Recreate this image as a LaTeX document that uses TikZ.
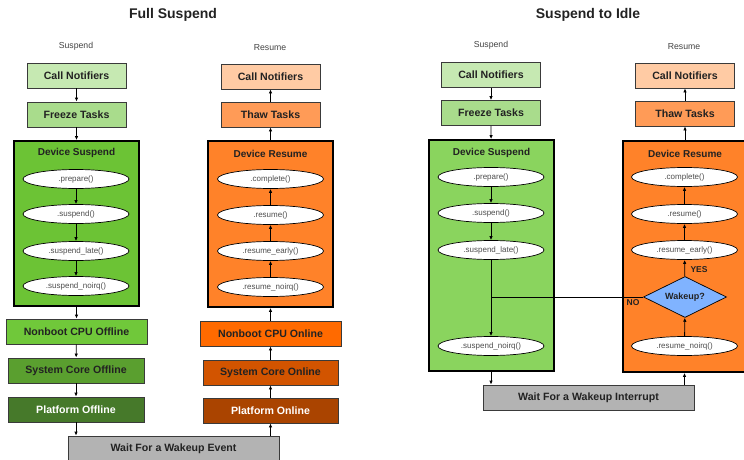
\documentclass[tikz,border=0pt]{standalone}
\usepackage{fontspec}
\setmainfont{Liberation Sans}
\usetikzlibrary{arrows.meta,shapes.geometric,calc}

\definecolor{inkdark}{HTML}{222222}
\definecolor{edgegray}{HTML}{3A3A3A}
\definecolor{notifygreen}{HTML}{C6E9B2}
\definecolor{freezegreen}{HTML}{A9DC8C}
\definecolor{devgreen}{HTML}{6CC335}
\definecolor{idlegreen}{HTML}{8AD45E}
\definecolor{cpugreen}{HTML}{70C83A}
\definecolor{coregreen}{HTML}{5A9F2F}
\definecolor{platgreen}{HTML}{46792A}
\definecolor{notifyorange}{HTML}{FFCBA4}
\definecolor{thaworange}{HTML}{FF9B57}
\definecolor{devorange}{HTML}{FF8229}
\definecolor{cpuorange}{HTML}{FF6A00}
\definecolor{coreorange}{HTML}{D25400}
\definecolor{platorange}{HTML}{AA4400}
\definecolor{waitgray}{HTML}{B3B3B3}
\definecolor{wakeblue}{HTML}{80B3FF}

\begin{document}
\begin{tikzpicture}[
    x=1pt, y=-1pt,
    stage/.style={rectangle, draw=edgegray, line width=0.8pt, minimum width=99pt, minimum height=25pt, inner sep=1pt, font=\fontsize{10.6}{12}\selectfont\bfseries, text=inkdark},
    devbox/.style={rectangle, draw=black, line width=1.8pt, minimum width=125pt, inner sep=0pt},
    boxtitle/.style={font=\fontsize{10}{12}\selectfont\bfseries, text=inkdark},
    cb/.style={ellipse, draw=black, line width=0.7pt, fill=white, minimum width=106pt, minimum height=19pt, inner sep=0pt, font=\fontsize{8}{9}\selectfont, text=inkdark!80},
    wake/.style={diamond, draw=black, line width=0.7pt, fill=wakeblue, aspect=2, minimum width=83pt, minimum height=41pt, inner sep=0pt, font=\fontsize{9}{10}\selectfont\bfseries, text=inkdark},
    arr/.style={line width=0.8pt, -{Latex[length=4pt,width=3.5pt]}},
    head/.style={font=\fontsize{14}{16}\selectfont\bfseries, text=inkdark},
    side/.style={font=\fontsize{8.7}{10}\selectfont, text=inkdark!85},
    tag/.style={font=\fontsize{8.5}{10}\selectfont\bfseries, text=inkdark},
]
    \useasboundingbox (0,0) rectangle (744,460);
    \clip (0,0) rectangle (744,460);

    % Full Suspend
    \node[head] (hd1) at (173,15) {Full Suspend};
    \node[side] (lbS1) at (76,46) {Suspend};
    \node[side] (lbR1) at (270,48) {Resume};

    \node[stage, fill=notifygreen] (cnS1) at (76.5,75.5) {Call Notifiers};
    \node[stage, fill=freezegreen] (ftS1) at (76.5,114.5) {Freeze Tasks};
    \node[devbox, minimum height=165pt, fill=devgreen] (dsS1) at (76.5,223.5) {};
    \node[boxtitle] (dtS1) at (76.5,153) {Device Suspend};
    \node[cb] (pS1) at (76,179) {.prepare()};
    \node[cb] (sS1) at (76,214) {.suspend()};
    \node[cb] (slS1) at (76,251) {.suspend\_late()};
    \node[cb] (snS1) at (76,286) {.suspend\_noirq()};
    \node[stage, minimum width=141pt, fill=cpugreen] (ncS1) at (76.5,331.5) {Nonboot CPU Offline};
    \node[stage, minimum width=136pt, fill=coregreen] (scS1) at (76,370.5) {System Core Offline};
    \node[stage, minimum width=136pt, fill=platgreen, text=white] (poS1) at (76,409.5) {Platform Offline};

    \node[stage, fill=notifyorange] (cnR1) at (270.5,76.5) {Call Notifiers};
    \node[stage, fill=thaworange] (ttR1) at (270.5,114.5) {Thaw Tasks};
    \node[devbox, minimum height=166pt, fill=devorange] (drR1) at (270.5,224) {};
    \node[boxtitle] (dtR1) at (270.5,154) {Device Resume};
    \node[cb] (cR1) at (270.5,179) {.complete()};
    \node[cb] (rR1) at (270.5,215) {.resume()};
    \node[cb] (reR1) at (270.5,251) {.resume\_early()};
    \node[cb] (rnR1) at (270.5,287) {.resume\_noirq()};
    \node[stage, minimum width=141pt, fill=cpuorange] (noR1) at (270.5,333.5) {Nonboot CPU Online};
    \node[stage, minimum width=135pt, fill=coreorange] (scR1) at (270.5,372.5) {System Core Online};
    \node[stage, minimum width=135pt, fill=platorange, text=white] (pnR1) at (270.5,410.5) {Platform Online};

    \node[stage, minimum width=211pt, fill=waitgray] (wt1) at (173.5,448.5) {Wait For a Wakeup Event};

    \draw[arr] (cnS1) -- (ftS1);
    \draw[arr] (ftS1) -- (dsS1);
    \draw[arr] (pS1) -- (sS1);
    \draw[arr] (sS1) -- (slS1);
    \draw[arr] (slS1) -- (snS1);
    \draw[arr] (dsS1) -- (ncS1);
    \draw[arr] (ncS1) -- (scS1);
    \draw[arr] (scS1) -- (poS1);
    \draw[arr] (poS1) -- (poS1 |- wt1.north);

    \draw[arr] (wt1.north -| pnR1) -- (pnR1);
    \draw[arr] (pnR1) -- (scR1);
    \draw[arr] (scR1) -- (noR1);
    \draw[arr] (noR1) -- (drR1);
    \draw[arr] (rnR1) -- (reR1);
    \draw[arr] (reR1) -- (rR1);
    \draw[arr] (rR1) -- (cR1);
    \draw[arr] (drR1) -- (ttR1);
    \draw[arr] (ttR1) -- (cnR1);

    % Suspend to Idle
    \node[head] (hd2) at (588,15) {Suspend to Idle};
    \node[side] (lbS2) at (491,45) {Suspend};
    \node[side] (lbR2) at (684,47) {Resume};

    \node[stage, fill=notifygreen] (cnS2) at (491,75) {Call Notifiers};
    \node[stage, fill=freezegreen] (ftS2) at (491,113) {Freeze Tasks};
    \node[devbox, minimum height=231pt, fill=idlegreen] (dsS2) at (491.5,255.5) {};
    \node[boxtitle] (dtS2) at (491.5,153) {Device Suspend};
    \node[cb] (pS2) at (491,177) {.prepare()};
    \node[cb] (sS2) at (491,213) {.suspend()};
    \node[cb] (slS2) at (491,250) {.suspend\_late()};
    \node[cb] (snS2) at (491,346) {.suspend\_noirq()};

    \node[stage, fill=notifyorange] (cnR2) at (685,75.5) {Call Notifiers};
    \node[stage, fill=thaworange] (ttR2) at (685,113.5) {Thaw Tasks};
    \node[devbox, minimum height=231pt, fill=devorange] (drR2) at (685.5,256.5) {};
    \node[boxtitle] (dtR2) at (685,154) {Device Resume};
    \node[cb] (cR2) at (684.5,177) {.complete()};
    \node[cb] (rR2) at (684.5,214) {.resume()};
    \node[cb] (reR2) at (684.5,250) {.resume\_early()};
    \node[wake] (wk) at (685,297) {Wakeup?};
    \node[cb] (rnR2) at (684.5,346) {.resume\_noirq()};
    \node[tag] (yes) at (699,270) {YES};
    \node[tag] (no) at (633,303) {NO};

    \node[stage, minimum width=211pt, fill=waitgray] (wt2) at (588.5,397.5) {Wait For a Wakeup Interrupt};

    \draw[arr] (cnS2) -- (ftS2);
    \draw[arr] (ftS2) -- (dsS2);
    \draw[arr] (pS2) -- (sS2);
    \draw[arr] (sS2) -- (slS2);
    \draw[arr] (slS2) -- (snS2);
    \draw[line width=0.8pt] (wk.west) -- (wk.west -| slS2);
    \draw[arr] (dsS2.south -| snS2) -- (snS2 |- wt2.north);

    \draw[arr] (wt2.north -| rnR2) -- (rnR2 |- drR2.south);
    \draw[arr] (rnR2) -- (wk);
    \draw[arr] (wk) -- (reR2);
    \draw[arr] (reR2) -- (rR2);
    \draw[arr] (rR2) -- (cR2);
    \draw[arr] (drR2.north -| ttR2) -- (ttR2);
    \draw[arr] (ttR2) -- (cnR2);
\end{tikzpicture}
\end{document}
